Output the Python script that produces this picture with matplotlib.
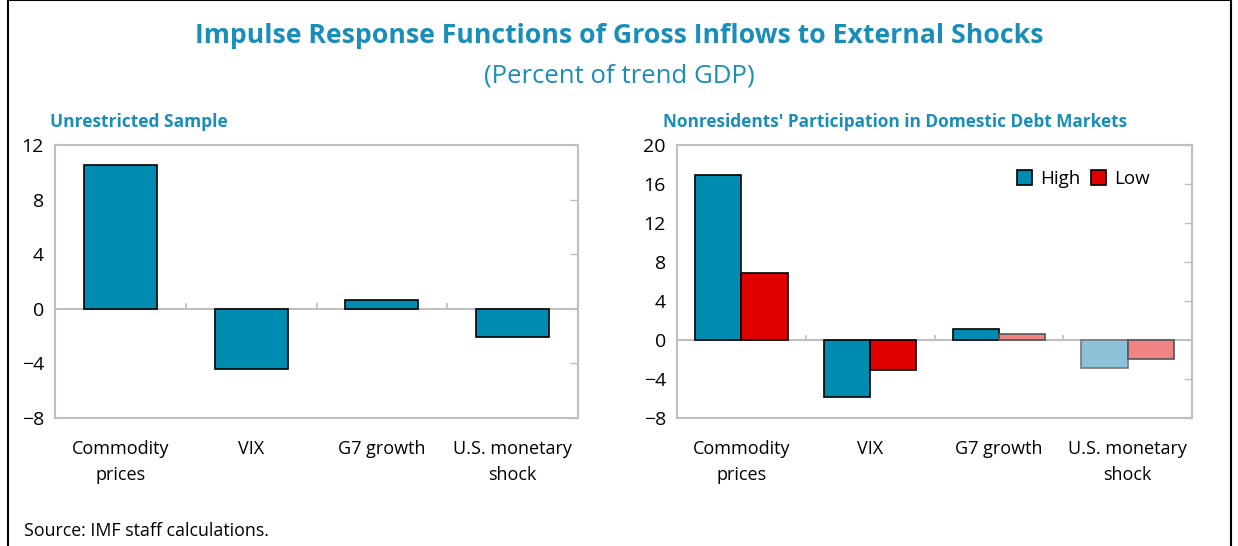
import numpy as np
import matplotlib.pyplot as plt
from matplotlib.patches import Rectangle, Patch

# data
categories = ["Commodity\nprices", "VIX", "G7 growth", "U.S. monetary\nshock"]
unrestricted = [10.5, -4.4, 0.65, -2.1]
high = [16.9, -5.8, 1.15, -2.9]
low = [6.9, -3.05, 0.6, -1.9]
high_significant = [True, True, True, False]
low_significant = [True, True, False, False]

teal = "#008BB0"
teal_light = "#8CC2D8"
red = "#E00000"
red_light = "#EE8484"
title_col = "#1A8DB8"
frame_col = "#BFBFBF"

plt.rcParams['font.family'] = ['Open Sans', 'DejaVu Sans']

fig = plt.figure(figsize=(12.38, 5.46), dpi=100)

# outer border
fig.patches.append(Rectangle((8 / 1238, -0.01), 1223 / 1238, 1.0095, transform=fig.transFigure,
                             fill=False, edgecolor="black", linewidth=1.5))

fig.text(0.5, 1 - 36 / 546, "Impulse Response Functions of Gross Inflows to External Shocks",
         ha="center", va="center", fontsize=19.2, fontweight="bold", color=title_col)
fig.text(0.5, 1 - 76 / 546, "(Percent of trend GDP)", ha="center", va="center",
         fontsize=18.5, color=title_col)


def style_axes(ax, ylim, yticks):
    ax.set_xlim(-0.5, 3.5)
    ax.set_ylim(*ylim)
    ax.set_yticks(yticks)
    ax.set_yticklabels([str(t).replace("-", "\u2212") for t in yticks])
    for s in ax.spines.values():
        s.set_color(frame_col)
        s.set_linewidth(1.5)
    ax.tick_params(axis="y", which="both", left=False, right=True, direction="in",
                   length=6, color=frame_col, width=1, labelsize=14, pad=8)
    ax.set_xticks(range(len(categories)))
    ax.set_xticklabels(categories, fontsize=13, linespacing=1.55)
    ax.tick_params(axis="x", length=0, pad=16)
    ax.axhline(0, color=frame_col, linewidth=1.5, zorder=1)
    span = ylim[1] - ylim[0]
    ax.vlines([0.5, 1.5, 2.5], 0, span * 0.02, color=frame_col, linewidth=1.2, zorder=1)


x = np.arange(len(categories))

ax1 = fig.add_axes([55 / 1238, 1 - 418 / 546, 523 / 1238, 273 / 546])
ax1.bar(x, unrestricted, width=0.56, color=teal, edgecolor="black", linewidth=1.2, zorder=2)
style_axes(ax1, (-8, 12), [-8, -4, 0, 4, 8, 12])
fig.text(50 / 1238, 1 - 122 / 546, "Unrestricted Sample", ha="left", va="center",
         fontsize=12.5, fontweight="bold", color=title_col)

ax2 = fig.add_axes([677 / 1238, 1 - 418 / 546, 515 / 1238, 273 / 546])
w = 0.36
hc = [teal if s else teal_light for s in high_significant]
lc = [red if s else red_light for s in low_significant]
he = ["black" if s else "#777777" for s in high_significant]
le = ["black" if s else "#555555" for s in low_significant]
ax2.bar(x - w / 2, high, width=w, color=hc, edgecolor=he, linewidth=1.2, zorder=2)
ax2.bar(x + w / 2, low, width=w, color=lc, edgecolor=le, linewidth=1.2, zorder=2)
style_axes(ax2, (-8, 20), [-8, -4, 0, 4, 8, 12, 16, 20])
fig.text(663 / 1238, 1 - 122 / 546, "Nonresidents' Participation in Domestic Debt Markets",
         ha="left", va="center", fontsize=12.4, fontweight="bold", color=title_col)
handles = [Patch(facecolor=teal, edgecolor="black", linewidth=1.2, label="High"),
           Patch(facecolor=red, edgecolor="black", linewidth=1.2, label="Low")]
ax2.legend(handles=handles, loc="upper right", ncol=2, frameon=False, fontsize=13.5,
           handlelength=0.8, handleheight=0.8, handletextpad=0.4, columnspacing=0.6,
           bbox_to_anchor=(0.95, 0.97))

fig.text(24 / 1238, 1 - 531 / 546, "Source: IMF staff calculations.", ha="left", va="center",
         fontsize=12.8)

fig.savefig("out.png", dpi=100)
